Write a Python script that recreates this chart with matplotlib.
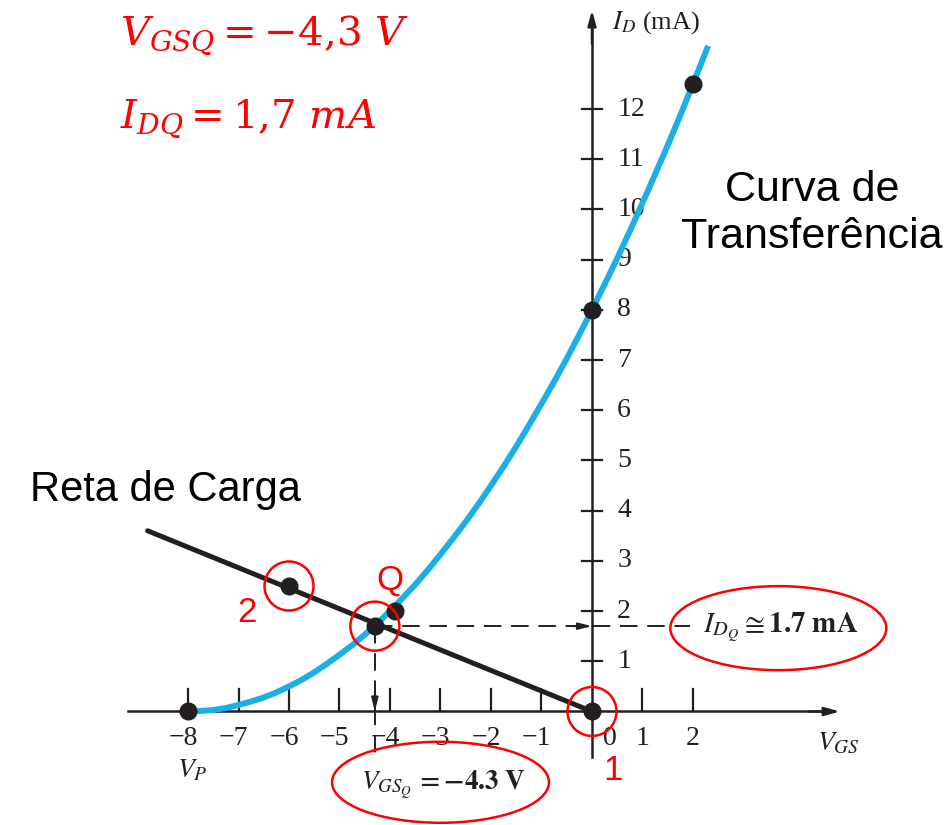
import matplotlib.pyplot as plt
from matplotlib.patches import Ellipse

plt.rcParams['mathtext.fontset'] = 'stix'

# transfer curve of the JFET (IDSS = 8 mA, VP = -8 V), read every 0.25 V
vgs_curve = [-8, -7.75, -7.5, -7.25, -7, -6.75, -6.5, -6.25, -6, -5.75, -5.5,
             -5.25, -5, -4.75, -4.5, -4.25, -4, -3.75, -3.5, -3.25, -3, -2.75,
             -2.5, -2.25, -2, -1.75, -1.5, -1.25, -1, -0.75, -0.5, -0.25, 0,
             0.25, 0.5, 0.75, 1, 1.25, 1.5, 1.75, 2, 2.3]
id_curve = [0, 0.01, 0.03, 0.07, 0.13, 0.2, 0.28, 0.38, 0.5, 0.63, 0.78,
            0.95, 1.13, 1.32, 1.53, 1.76, 2.0, 2.26, 2.53, 2.82, 3.13, 3.45,
            3.78, 4.13, 4.5, 4.88, 5.28, 5.7, 6.13, 6.57, 7.03, 7.51, 8.0,
            8.51, 9.03, 9.57, 10.13, 10.7, 11.28, 11.88, 12.5, 13.26]

# load line (self bias)
vgs_load = [-8.8, 0]
id_load = [3.6, 0]

# marked points
pts_vgs = [-8, 0, 2, 0, -6, -3.9]
pts_id = [0, 8, 12.5, 0, 2.5, 2.0]

# operating point
vgs_q = -4.3
id_q = 1.7

x_ticks = [-8, -7, -6, -5, -4, -3, -2, -1, 1, 2]
y_ticks = list(range(1, 13))

blue = '#1CAEE6'
black = '#231F20'
red = '#FF0000'
serif = 'Liberation Serif'
sans = 'Liberation Sans'

fig = plt.figure(figsize=(9.53, 8.25), dpi=100)
ax = fig.add_axes([0, 0, 1, 1])
ax.set_xlim(-11.723, 7.149)
ax.set_ylim(-2.261, 14.173)
ax.axis('off')

# axes with arrow heads
ax.plot([-9.19, 4.8], [0, 0], color=black, lw=1.8, zorder=2)
ax.plot([0, 0], [-0.91, 13.7], color=black, lw=1.8, zorder=2)
ax.annotate('', xy=(4.91, 0), xytext=(4.3, 0),
            arrowprops=dict(arrowstyle='-|>,head_length=0.9,head_width=0.25',
                            color=black, lw=1.8, shrinkA=0, shrinkB=0))
ax.annotate('', xy=(0, 13.97), xytext=(0, 13.3),
            arrowprops=dict(arrowstyle='-|>,head_length=0.9,head_width=0.25',
                            color=black, lw=1.8, shrinkA=0, shrinkB=0))

for x in x_ticks:
    ax.plot([x, x], [0, 0.44], color=black, lw=1.6, zorder=2)
    if x < 0:
        ax.text(x + 0.2, -0.53, '\u2212' + str(-x), ha='right', va='center',
                fontsize=20, family=serif, color=black)
    else:
        ax.text(x, -0.53, str(x), ha='center', va='center',
                fontsize=20, family=serif, color=black)
ax.text(0.35, -0.53, '0', ha='center', va='center', fontsize=20,
        family=serif, color=black)

for y in y_ticks:
    ax.plot([-0.2, 0.2], [y, y], color=black, lw=1.6, zorder=2)
    ax.text(0.5, y, str(y), ha='left', va='center', fontsize=20,
            family=serif, color=black)

ax.text(0.4, 13.73, r'$I_D$ (mA)', ha='left', va='center', fontsize=19,
        family=serif, color=black)
ax.text(4.89, -0.61, r'$V_{GS}$', ha='center', va='center', fontsize=20,
        color=black)
ax.text(-7.92, -1.16, r'$V_P$', ha='center', va='center', fontsize=20,
        color=black)

# curves
ax.plot(vgs_curve, id_curve, color=blue, lw=4.3, solid_capstyle='butt',
        solid_joinstyle='round', zorder=3)
ax.plot(vgs_load, id_load, color=black, lw=3.6, solid_capstyle='round', zorder=4)
ax.plot(pts_vgs, pts_id, 'o', color=black, ms=12, zorder=5)
ax.plot([vgs_q], [id_q], 'o', color=black, ms=12, zorder=5)

# dashed projections of Q
ax.plot([vgs_q, 1.94], [id_q, id_q], color=black, lw=1.4, dashes=(9, 5), zorder=2)
ax.plot([vgs_q, vgs_q], [id_q, -0.93], color=black, lw=1.4, dashes=(9, 5), zorder=2)
ax.annotate('', xy=(0, id_q), xytext=(-0.4, id_q),
            arrowprops=dict(arrowstyle='-|>,head_length=0.8,head_width=0.2',
                            color=black, lw=1.4, shrinkA=0, shrinkB=0))
ax.annotate('', xy=(vgs_q, 0), xytext=(vgs_q, 0.4),
            arrowprops=dict(arrowstyle='-|>,head_length=0.8,head_width=0.2',
                            color=black, lw=1.4, shrinkA=0, shrinkB=0))

# red highlights
for cx, cy in [(0, 0), (-6, 2.5), (vgs_q, id_q)]:
    ax.add_patch(Ellipse((cx, cy), 49 / 50.5, 49 / 50.2, fill=False,
                         ec=red, lw=1.8, zorder=6))
ax.add_patch(Ellipse((3.69, 1.66), 216 / 50.5, 84 / 50.2, fill=False,
                     ec=red, lw=1.8, zorder=6))
ax.add_patch(Ellipse((-3.0, -1.41), 217 / 50.5, 81 / 50.2, fill=False,
                     ec=red, lw=1.8, zorder=6))

ax.text(3.73, 1.66, r'$I_{D_Q} \cong \mathbf{1.7\ mA}$', ha='center',
        va='center', fontsize=21, color=black)
ax.text(-2.95, -1.45, r'$V_{GS_Q}\, \mathbf{= -4.3\ V}$', ha='center',
        va='center', fontsize=19.5, color=black)

ax.text(0.42, -1.17, '1', ha='center', va='center', fontsize=25,
        family=sans, color=red)
ax.text(-6.83, 1.98, '2', ha='center', va='center', fontsize=25,
        family=sans, color=red)
ax.text(-4.0, 2.62, 'Q', ha='center', va='center', fontsize=25,
        family=sans, color=red)

ax.text(-9.35, 13.28, r'$V_{GSQ} = -4{,}3\ V$', ha='left', va='baseline',
        fontsize=29, color=red, math_fontfamily='dejavuserif')
ax.text(-9.35, 11.62, r'$I_{DQ} = 1{,}7\ mA$', ha='left', va='baseline',
        fontsize=29, color=red, math_fontfamily='dejavuserif')

ax.text(-8.44, 4.42, 'Reta de Carga', ha='center', va='center', fontsize=30,
        family=sans, color='black')
ax.text(4.36, 9.92, 'Curva de\nTransferência', ha='center', va='center',
        fontsize=31, family=sans, color='black', linespacing=1.2)

fig.savefig('out.png', dpi=100)
